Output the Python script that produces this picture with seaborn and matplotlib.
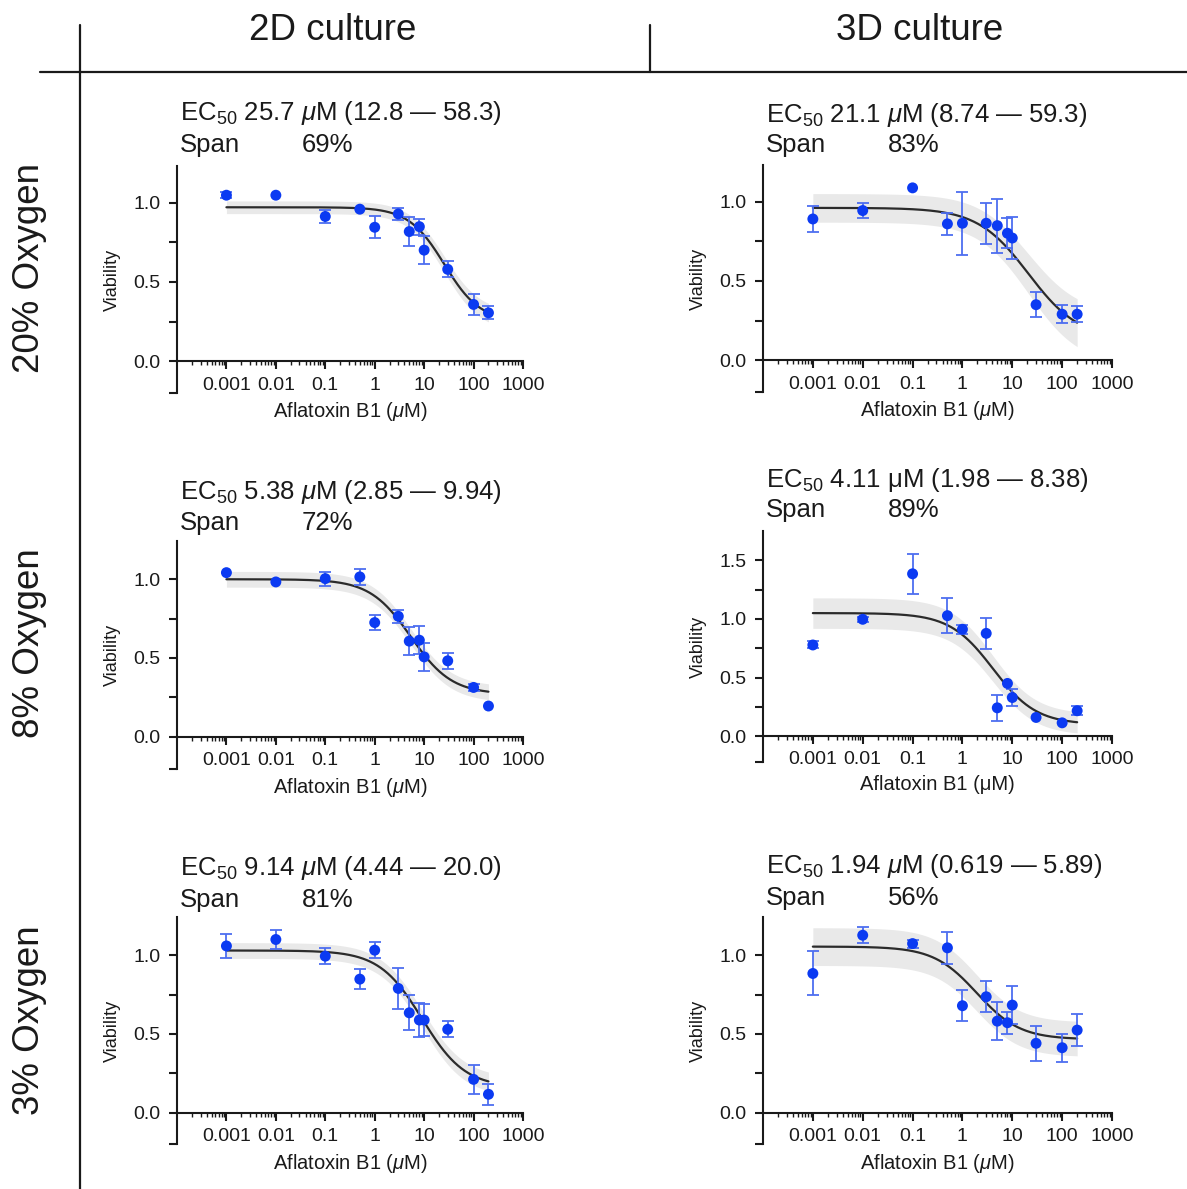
import numpy as np
import seaborn as sns
import matplotlib.pyplot as plt
from matplotlib.lines import Line2D
from matplotlib.ticker import LogLocator, NullFormatter, FixedLocator

sns.set_theme(style="ticks")
plt.rcParams["font.family"] = ["Liberation Sans", "DejaVu Sans"]
plt.rcParams["mathtext.fontset"] = "custom"
plt.rcParams["mathtext.rm"] = "Liberation Sans"
plt.rcParams["mathtext.it"] = "Liberation Sans:italic"

# doses (uM)
doses = [0.001, 0.01, 0.1, 0.5, 1, 3, 5, 8, 10, 30, 100, 200]

# viability values, (mean, error)
v_2d_20 = [1.046, 1.046, 0.912, 0.958, 0.844, 0.928, 0.817, 0.848, 0.70, 0.579, 0.358, 0.305]
e_2d_20 = [0.02, 0.0, 0.04, 0.0, 0.07, 0.04, 0.09, 0.05, 0.09, 0.05, 0.065, 0.04]
v_3d_20 = [0.89, 0.943, 1.086, 0.859, 0.863, 0.863, 0.848, 0.80, 0.77, 0.35, 0.29, 0.29]
e_3d_20 = [0.08, 0.05, 0.0, 0.07, 0.20, 0.13, 0.17, 0.095, 0.13, 0.08, 0.055, 0.05]
v_2d_8 = [1.042, 0.983, 1.004, 1.015, 0.725, 0.765, 0.607, 0.613, 0.507, 0.482, 0.313, 0.195]
e_2d_8 = [0.0, 0.0, 0.045, 0.05, 0.045, 0.04, 0.09, 0.09, 0.09, 0.05, 0.02, 0.0]
v_3d_8 = [0.778, 0.997, 1.385, 1.028, 0.912, 0.877, 0.242, 0.45, 0.33, 0.16, 0.114, 0.217]
e_3d_8 = [0.03, 0.02, 0.17, 0.15, 0.04, 0.13, 0.11, 0.0, 0.07, 0.0, 0.0, 0.04]
v_2d_3 = [1.059, 1.10, 0.994, 0.848, 1.032, 0.789, 0.634, 0.588, 0.588, 0.529, 0.211, 0.116]
e_2d_3 = [0.075, 0.06, 0.05, 0.065, 0.05, 0.13, 0.11, 0.11, 0.10, 0.05, 0.09, 0.065]
v_3d_3 = [0.884, 1.127, 1.074, 1.047, 0.679, 0.736, 0.581, 0.571, 0.683, 0.44, 0.412, 0.524]
e_3d_3 = [0.14, 0.05, 0.025, 0.10, 0.10, 0.10, 0.12, 0.07, 0.12, 0.11, 0.09, 0.10]

# fit parameters: top, bottom, EC50, hill slope, band half width at top / bottom
fit_2d_20 = [0.97, 0.25, 25.7, 1.2, 0.04, 0.06]
fit_3d_20 = [0.96, 0.13, 21.1, 0.85, 0.09, 0.16]
fit_2d_8 = [1.0, 0.27, 5.38, 1.05, 0.05, 0.05]
fit_3d_8 = [1.05, 0.10, 4.11, 1.0, 0.13, 0.09]
fit_2d_3 = [1.03, 0.16, 9.14, 1.0, 0.05, 0.06]
fit_3d_3 = [1.055, 0.465, 1.94, 1.0, 0.12, 0.11]

ec50_texts = ["25.7 $\\mu$M (12.8 — 58.3)", "21.1 $\\mu$M (8.74 — 59.3)",
              "5.38 $\\mu$M (2.85 — 9.94)", "4.11 μM (1.98 — 8.38)",
              "9.14 $\\mu$M (4.44 — 20.0)", "1.94 $\\mu$M (0.619 — 5.89)"]
spans = ["69%", "83%", "72%", "89%", "81%", "56%"]
xlabels = ["Aflatoxin B1 ($\\mu$M)"] * 3 + ["Aflatoxin B1 (μM)"] + ["Aflatoxin B1 ($\\mu$M)"] * 2

col_titles = ["2D culture", "3D culture"]
row_titles = ["20% Oxygen", "8% Oxygen", "3% Oxygen"]

W, H = 1187, 1189
fig = plt.figure(figsize=(W / 100, H / 100), dpi=100)

# panel boxes in pixels: left, top, right, bottom
boxes = [(177, 166, 523, 393), (763, 165, 1112, 392),
         (177, 541, 523, 769), (763, 531, 1112, 762),
         (177, 917, 523, 1144), (763, 917, 1112, 1144)]
title_y = [(113, 145), (115, 145), (492, 523), (480, 510), (868, 900), (866, 898)]
ylims = [(-0.2, 1.23), (-0.2, 1.23), (-0.205, 1.243), (-0.22, 1.75), (-0.2, 1.243), (-0.2, 1.243)]

values = [v_2d_20, v_3d_20, v_2d_8, v_3d_8, v_2d_3, v_3d_3]
errors = [e_2d_20, e_3d_20, e_2d_8, e_3d_8, e_2d_3, e_3d_3]
fits = [fit_2d_20, fit_3d_20, fit_2d_8, fit_3d_8, fit_2d_3, fit_3d_3]

blue = "#0b3af2"
ebar = "#4d6ef0"
ink = "#1a1a1a"

for i in range(6):
    l, t, r, b = boxes[i]
    ax = fig.add_axes([l / W, 1 - b / H, (r - l) / W, (b - t) / H])
    ax.set_xscale("log")

    top, bot, ec50, hill, dt, db = fits[i]
    xs = np.logspace(-3, np.log10(200), 300)
    frac = 1 / (1 + (xs / ec50) ** hill)
    ys = bot + (top - bot) * frac
    half = dt * frac + db * (1 - frac)
    ax.fill_between(xs, ys - half, ys + half, color="#e9e9e9", lw=0, zorder=1)
    sns.lineplot(x=xs, y=ys, ax=ax, color="#2b2b2b", lw=1.6, zorder=2)

    v = np.array(values[i])
    e = np.array(errors[i])
    d = np.array(doses)
    m = e > 0
    ax.errorbar(d[m], v[m], yerr=e[m], fmt="none", ecolor=ebar, elinewidth=1.3,
                capsize=4, capthick=1.3, zorder=3)
    sns.scatterplot(x=d, y=v, ax=ax, color=blue, s=62, edgecolor="none", zorder=4)

    ax.set_xlim(1e-4, 1000)
    ax.set_ylim(*ylims[i])
    ax.spines["right"].set_visible(False)
    ax.spines["top"].set_visible(False)
    ax.spines["bottom"].set_position(("data", 0))
    for s in ["left", "bottom"]:
        ax.spines[s].set_linewidth(1.5)
        ax.spines[s].set_color(ink)

    ax.xaxis.set_major_locator(FixedLocator([1e-3, 1e-2, 1e-1, 1, 10, 100, 1000]))
    ax.set_xticklabels(["0.001", "0.01", "0.1", "1", "10", "100", "1000"])
    ax.xaxis.set_minor_locator(LogLocator(base=10, subs=np.arange(2, 10), numticks=20))
    ax.xaxis.set_minor_formatter(NullFormatter())

    y0 = ylims[i][0]
    if ylims[i][1] > 1.5:
        ymaj = [y0, 0, 0.5, 1.0, 1.5]
        ylab = ["", "0.0", "0.5", "1.0", "1.5"]
        ymin = [0.25, 0.75, 1.25]
    else:
        ymaj = [y0, 0, 0.5, 1.0]
        ylab = ["", "0.0", "0.5", "1.0"]
        ymin = [0.25, 0.75]
    ax.set_yticks(ymaj)
    ax.set_yticklabels(ylab)
    ax.set_yticks(ymin, minor=True)

    ax.tick_params(axis="both", which="major", length=6, width=1.5, color=ink,
                   labelsize=14, labelcolor=ink)
    ax.tick_params(axis="y", which="major", pad=6)
    ax.tick_params(axis="y", which="minor", length=6, width=1.5, color=ink)
    ax.tick_params(axis="x", which="minor", length=3, width=1.0, color=ink)
    ax.tick_params(axis="x", which="major", pad=5)

    ax.set_xlabel(xlabels[i], fontsize=14.5, color=ink, labelpad=5)
    ax.set_ylabel("Viability", fontsize=13, color=ink, labelpad=9)
    ax.grid(False)
    ax.set_facecolor("white")

    ty1, ty2 = title_y[i]
    fig.text((l + 3) / W, 1 - ty1 / H, "EC$_{50}$ " + ec50_texts[i], fontsize=18.5,
             color=ink, va="center", ha="left")
    fig.text((l + 3) / W, 1 - ty2 / H, "Span", fontsize=18.5, color=ink, va="center", ha="left")
    fig.text((l + 125) / W, 1 - ty2 / H, spans[i], fontsize=18.5, color=ink,
             va="center", ha="left")

# header and row labels
fig.text(333 / W, 1 - 30 / H, col_titles[0], fontsize=26.5, ha="center", va="center", color=ink)
fig.text(920 / W, 1 - 30 / H, col_titles[1], fontsize=26.5, ha="center", va="center", color=ink)
for y, txt in zip([268, 643, 1020], row_titles):
    fig.text(30 / W, 1 - y / H, txt, fontsize=26.5, rotation=90, ha="center", va="center", color=ink)

fig.add_artist(Line2D([40 / W, 1], [1 - 72 / H, 1 - 72 / H], color=ink, lw=1.6))
fig.add_artist(Line2D([80 / W, 80 / W], [0, 1 - 25 / H], color=ink, lw=1.6))
fig.add_artist(Line2D([650 / W, 650 / W], [1 - 72 / H, 1 - 25 / H], color=ink, lw=1.6))

fig.savefig("out.png", dpi=100, facecolor="white")
